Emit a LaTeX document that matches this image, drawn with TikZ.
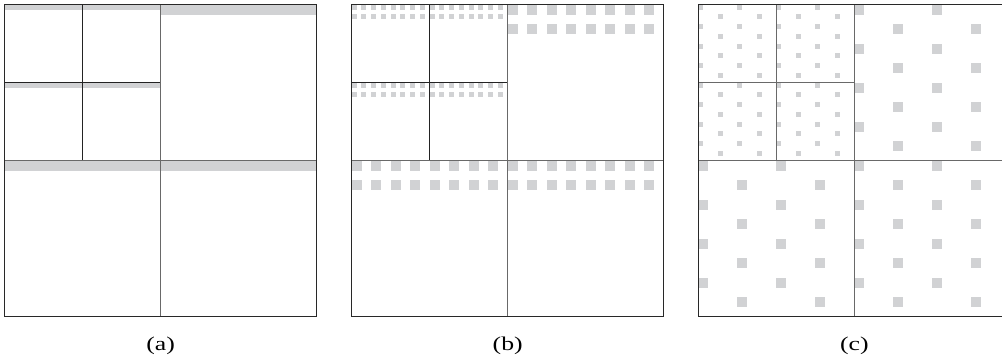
\documentclass[tikz,border=0pt]{standalone}
\usepackage{fontspec}
\setmainfont{Liberation Serif}
\definecolor{patgray}{RGB}{209,210,212}
\definecolor{outerline}{RGB}{40,40,40}
\definecolor{midline}{RGB}{105,105,105}
\definecolor{qline}{RGB}{35,35,35}
\tikzset{
  outerbox/.style={draw=outerline, line width=1.4pt},
  midrule/.style={draw=midline, line width=1.1pt},
  quarterrule/.style={draw=qline, line width=0.8pt},
  patch/.style={fill=patgray},
  caption/.style={font=\fontsize{19.5}{19.5}\selectfont, inner sep=0pt}
}
\newcommand{\captext}[1]{\scalebox{1.32}[1]{#1}}
\begin{document}
\begin{tikzpicture}[x=1pt,y=-1pt]
\useasboundingbox (0,0) rectangle (1002,360);
\clip (0,0) rectangle (1002,360);
\fill[white] (0,0) rectangle (1002,360);
\def\S{312}\def\H{156}\def\Q{78}\def\Y{4.7}
% ---------- panel (a) ----------
\def\X{4.7}
\fill[patch] (\X+\H,\Y) rectangle ++(\H,10);
\fill[patch] (\X,\Y+\H) rectangle ++(\H,10);
\fill[patch] (\X+\H,\Y+\H) rectangle ++(\H,10);
\foreach \qi in {0,1}{\foreach \qj in {0,1}{
  \fill[patch] (\X+\Q*\qi,\Y+\Q*\qj) rectangle ++(\Q,5);
}}
\draw[quarterrule] (\X+\Q,\Y) -- (\X+\Q,\Y+\H);
\draw[quarterrule] (\X,\Y+\Q) -- (\X+\H,\Y+\Q);
\draw[midrule] (\X+\H,\Y) -- (\X+\H,\Y+\S);
\draw[midrule] (\X,\Y+\H) -- (\X+\S,\Y+\H);
\draw[outerbox] (\X,\Y) rectangle ++(\S,\S);
\node[caption] (capa) at (\X+\H,345.5) {\captext{(a)}};
% ---------- panel (b) ----------
\def\X{351.7}
\foreach \qx/\qy in {1/0,0/1,1/1}{
  \foreach \r in {0,1}{\foreach \c in {0,...,7}{
    \fill[patch] (\X+\H*\qx+19.5*\c,\Y+\H*\qy+19.5*\r) rectangle ++(10,10);
  }}
}
\foreach \qi in {0,1}{\foreach \qj in {0,1}{
  \foreach \r in {0,1}{\foreach \c in {0,...,7}{
    \fill[patch] (\X+\Q*\qi+9.75*\c,\Y+\Q*\qj+9.75*\r) rectangle ++(5,5);
  }}
}}
\draw[quarterrule] (\X+\Q,\Y) -- (\X+\Q,\Y+\H);
\draw[quarterrule] (\X,\Y+\Q) -- (\X+\H,\Y+\Q);
\draw[midrule] (\X+\H,\Y) -- (\X+\H,\Y+\S);
\draw[midrule] (\X,\Y+\H) -- (\X+\S,\Y+\H);
\draw[outerbox] (\X,\Y) rectangle ++(\S,\S);
\node[caption] (capb) at (\X+\H,345.5) {\captext{(b)}};
% ---------- panel (c) ----------
\def\X{698.3}
\foreach \qx/\qy in {1/0,0/1,1/1}{
  \foreach \i in {0,...,3}{\foreach \j in {0,...,7}{
    \pgfmathtruncatemacro{\parityval}{mod(\i+\j,2)}
    \ifnum\parityval=0
      \fill[patch] (\X+\H*\qx+39*\i,\Y+\H*\qy+19.5*\j) rectangle ++(10,10);
    \fi
  }}
}
\foreach \qi in {0,1}{\foreach \qj in {0,1}{
  \foreach \i in {0,...,3}{\foreach \j in {0,...,7}{
    \pgfmathtruncatemacro{\parityval}{mod(\i+\j,2)}
    \ifnum\parityval=0
      \fill[patch] (\X+\Q*\qi+19.5*\i,\Y+\Q*\qj+9.75*\j) rectangle ++(5,5);
    \fi
  }}
}}
\draw[midrule] (\X+\Q,\Y) -- (\X+\Q,\Y+\H);
\draw[midrule] (\X,\Y+\Q) -- (\X+\H,\Y+\Q);
\draw[midrule] (\X+\H,\Y) -- (\X+\H,\Y+\S);
\draw[midrule] (\X,\Y+\H) -- (\X+\S,\Y+\H);
\draw[outerbox] (\X,\Y) rectangle ++(\S,\S);
\node[caption] (capc) at (\X+\H,345.5) {\captext{(c)}};
\end{tikzpicture}
\end{document}
